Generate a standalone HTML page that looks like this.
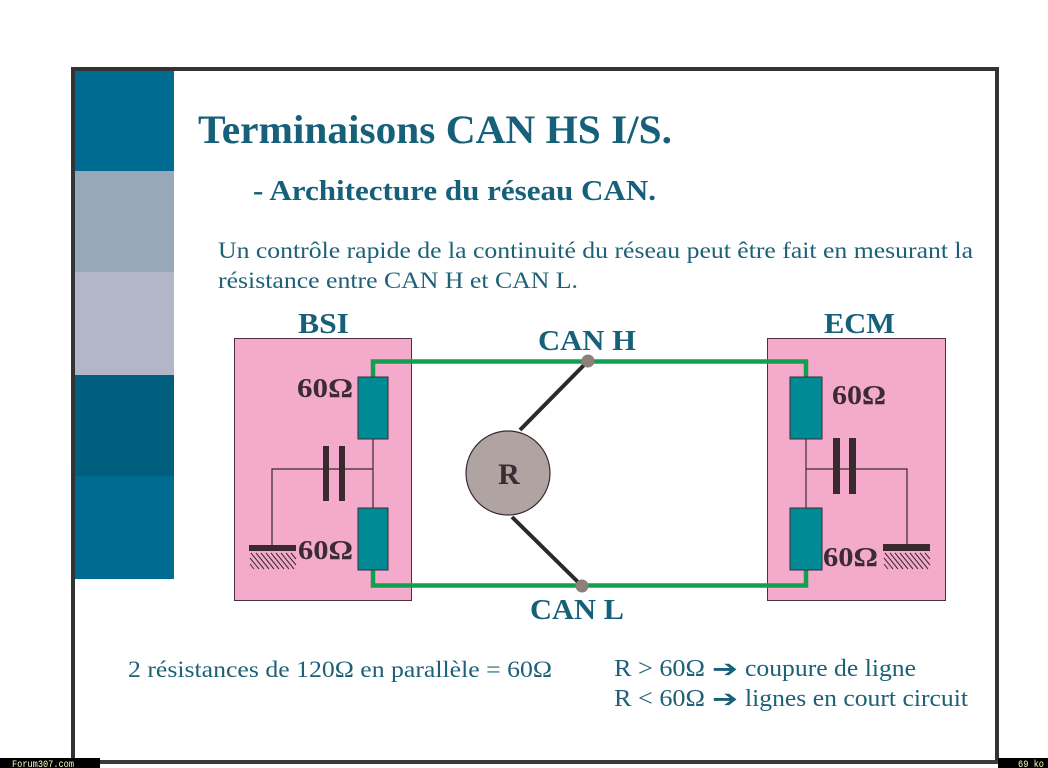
<!DOCTYPE html>
<html><head><meta charset="utf-8"><style>
html,body{margin:0;padding:0;background:#fff;}
svg{display:block;}
.s{font-family:"Liberation Serif",serif;}
</style></head><body>
<svg width="1048" height="768" viewBox="0 0 1048 768" xmlns="http://www.w3.org/2000/svg">
<rect width="1048" height="768" fill="#fff"/>
<!-- left colour bands -->
<rect x="74" y="70" width="100" height="101" fill="#006b91"/>
<rect x="74" y="171" width="100" height="101" fill="#97a8bb"/>
<rect x="74" y="272" width="100" height="103" fill="#b3b5c8"/>
<rect x="74" y="375" width="100" height="101" fill="#005f7f"/>
<rect x="74" y="476" width="100" height="103" fill="#006b91"/>
<!-- frame -->
<rect x="71" y="67" width="4" height="697" fill="#333"/>
<rect x="71" y="67" width="928" height="4" fill="#333"/>
<rect x="995" y="67" width="4" height="697" fill="#333"/>
<rect x="71" y="760" width="928" height="4" fill="#3a3a3a"/>
<!-- footer tags -->
<rect x="0" y="758" width="100" height="10" fill="#000"/>
<text x="12" y="767" font-family="Liberation Mono,monospace" font-size="10" fill="#ffffc0" textLength="62" lengthAdjust="spacingAndGlyphs">Forum307.com</text>
<rect x="998" y="758" width="50" height="10" fill="#000"/>
<text x="1018" y="767" font-family="Liberation Mono,monospace" font-size="10" fill="#ffffc0" textLength="26" lengthAdjust="spacingAndGlyphs">69 ko</text>

<!-- titles -->
<text class="s" x="198" y="143" font-size="40" font-weight="bold" fill="#16607a" textLength="474" lengthAdjust="spacingAndGlyphs">Terminaisons CAN HS I/S.</text>
<text class="s" x="253" y="200" font-size="28" font-weight="bold" fill="#16607a" textLength="403" lengthAdjust="spacingAndGlyphs">- Architecture du réseau CAN.</text>
<text class="s" x="218" y="258" font-size="23" fill="#1d6178" textLength="755" lengthAdjust="spacingAndGlyphs">Un contrôle rapide de la continuité du réseau peut être fait en mesurant la</text>
<text class="s" x="218" y="288" font-size="23" fill="#1d6178" textLength="360" lengthAdjust="spacingAndGlyphs">résistance entre CAN H et CAN L.</text>

<!-- labels -->
<text class="s" x="298" y="333" font-size="28" font-weight="bold" fill="#16607a" textLength="51" lengthAdjust="spacingAndGlyphs">BSI</text>
<text class="s" x="824" y="333" font-size="28" font-weight="bold" fill="#16607a" textLength="71" lengthAdjust="spacingAndGlyphs">ECM</text>
<text class="s" x="538" y="350" font-size="28" font-weight="bold" fill="#16607a" textLength="98" lengthAdjust="spacingAndGlyphs">CAN H</text>
<text class="s" x="530" y="619" font-size="28" font-weight="bold" fill="#16607a" textLength="94" lengthAdjust="spacingAndGlyphs">CAN L</text>

<!-- BSI box -->
<rect x="234.5" y="338.5" width="177" height="262" fill="#f4aacb" stroke="#4a3040" stroke-width="1"/>
<!-- ECM box -->
<rect x="767.5" y="338.5" width="178" height="262" fill="#f4aacb" stroke="#4a3040" stroke-width="1"/>

<!-- green wires -->
<polyline points="373,377 373,361.5 806,361.5 806,377" fill="none" stroke="#12a050" stroke-width="4.5"/>
<polyline points="373,570 373,585.5 806,585.5 806,570" fill="none" stroke="#12a050" stroke-width="4.5"/>

<!-- BSI internals -->
<line x1="373" y1="439" x2="373" y2="508" stroke="#3a2a30" stroke-width="1.2"/>
<polyline points="373,469 272,469 272,545" fill="none" stroke="#3a2a30" stroke-width="1.2"/>
<rect x="323" y="446" width="6" height="55" fill="#3a2a30"/>
<rect x="339" y="446" width="6" height="55" fill="#3a2a30"/>
<rect x="358" y="377" width="30" height="62" fill="#008a96" stroke="#3a2a30" stroke-width="1"/>
<rect x="358" y="508" width="30" height="62" fill="#008a96" stroke="#3a2a30" stroke-width="1"/>
<rect x="249" y="545" width="47" height="6" fill="#3a2a30"/>
<g stroke="#3a2a30" stroke-width="1">
<line x1="251" y1="553" x2="264" y2="569"/><line x1="256" y1="553" x2="269" y2="569"/><line x1="261" y1="553" x2="274" y2="569"/><line x1="266" y1="553" x2="279" y2="569"/><line x1="271" y1="553" x2="284" y2="569"/><line x1="276" y1="553" x2="289" y2="569"/><line x1="281" y1="553" x2="294" y2="569"/><line x1="286" y1="553" x2="296" y2="565"/><line x1="291" y1="553" x2="296" y2="559"/><line x1="250" y1="558" x2="259" y2="569"/><line x1="250" y1="564" x2="254" y2="569"/>
</g>
<text class="s" x="297" y="397" font-size="27" font-weight="bold" fill="#3b2b33" textLength="56" lengthAdjust="spacingAndGlyphs">60Ω</text>
<text class="s" x="298" y="559" font-size="27" font-weight="bold" fill="#3b2b33" textLength="55" lengthAdjust="spacingAndGlyphs">60Ω</text>

<!-- ECM internals -->
<line x1="806" y1="439" x2="806" y2="508" stroke="#3a2a30" stroke-width="1.2"/>
<polyline points="806,469 907,469 907,545" fill="none" stroke="#3a2a30" stroke-width="1.2"/>
<rect x="833" y="438" width="7" height="56" fill="#3a2a30"/>
<rect x="849" y="438" width="7" height="56" fill="#3a2a30"/>
<rect x="790" y="377" width="32" height="62" fill="#008a96" stroke="#3a2a30" stroke-width="1"/>
<rect x="790" y="508" width="32" height="62" fill="#008a96" stroke="#3a2a30" stroke-width="1"/>
<rect x="883" y="544" width="47" height="7" fill="#3a2a30"/>
<g stroke="#3a2a30" stroke-width="1">
<line x1="885" y1="553" x2="898" y2="569"/><line x1="890" y1="553" x2="903" y2="569"/><line x1="895" y1="553" x2="908" y2="569"/><line x1="900" y1="553" x2="913" y2="569"/><line x1="905" y1="553" x2="918" y2="569"/><line x1="910" y1="553" x2="923" y2="569"/><line x1="915" y1="553" x2="928" y2="569"/><line x1="920" y1="553" x2="930" y2="565"/><line x1="925" y1="553" x2="930" y2="559"/><line x1="884" y1="558" x2="893" y2="569"/><line x1="884" y1="564" x2="888" y2="569"/>
</g>
<text class="s" x="832" y="404" font-size="27" font-weight="bold" fill="#3b2b33" textLength="54" lengthAdjust="spacingAndGlyphs">60Ω</text>
<text class="s" x="823" y="566" font-size="27" font-weight="bold" fill="#3b2b33" textLength="55" lengthAdjust="spacingAndGlyphs">60Ω</text>

<!-- R meter -->
<line x1="520" y1="430" x2="588" y2="361" stroke="#2a2a2a" stroke-width="4"/>
<line x1="512" y1="517" x2="582" y2="586" stroke="#2a2a2a" stroke-width="4"/>
<circle cx="588" cy="361" r="6.5" fill="#8d7f7c"/>
<circle cx="582" cy="586" r="6.5" fill="#8d7f7c"/>
<circle cx="508" cy="473" r="42" fill="#b0a4a2" stroke="#3a2a30" stroke-width="1.2"/>
<text class="s" x="509" y="484" font-size="30" font-weight="bold" fill="#3b2b33" text-anchor="middle">R</text>

<!-- bottom texts -->
<text class="s" x="128" y="677" font-size="23" fill="#1d6178" textLength="424" lengthAdjust="spacingAndGlyphs">2 résistances de 120Ω en parallèle = 60Ω</text>
<text class="s" x="614" y="676" font-size="24" fill="#1d6178" textLength="91" lengthAdjust="spacingAndGlyphs">R &gt; 60Ω</text>
<text x="712" y="677" font-size="24" font-weight="bold" fill="#16607a" font-family="DejaVu Sans,sans-serif" textLength="26" lengthAdjust="spacingAndGlyphs">➔</text>
<text class="s" x="745" y="676" font-size="24" fill="#1d6178" textLength="171" lengthAdjust="spacingAndGlyphs">coupure de ligne</text>
<text class="s" x="614" y="706" font-size="24" fill="#1d6178" textLength="91" lengthAdjust="spacingAndGlyphs">R &lt; 60Ω</text>
<text x="712" y="707" font-size="24" font-weight="bold" fill="#16607a" font-family="DejaVu Sans,sans-serif" textLength="26" lengthAdjust="spacingAndGlyphs">➔</text>
<text class="s" x="745" y="706" font-size="24" fill="#1d6178" textLength="223" lengthAdjust="spacingAndGlyphs">lignes en court circuit</text>
</svg>
</body></html>
